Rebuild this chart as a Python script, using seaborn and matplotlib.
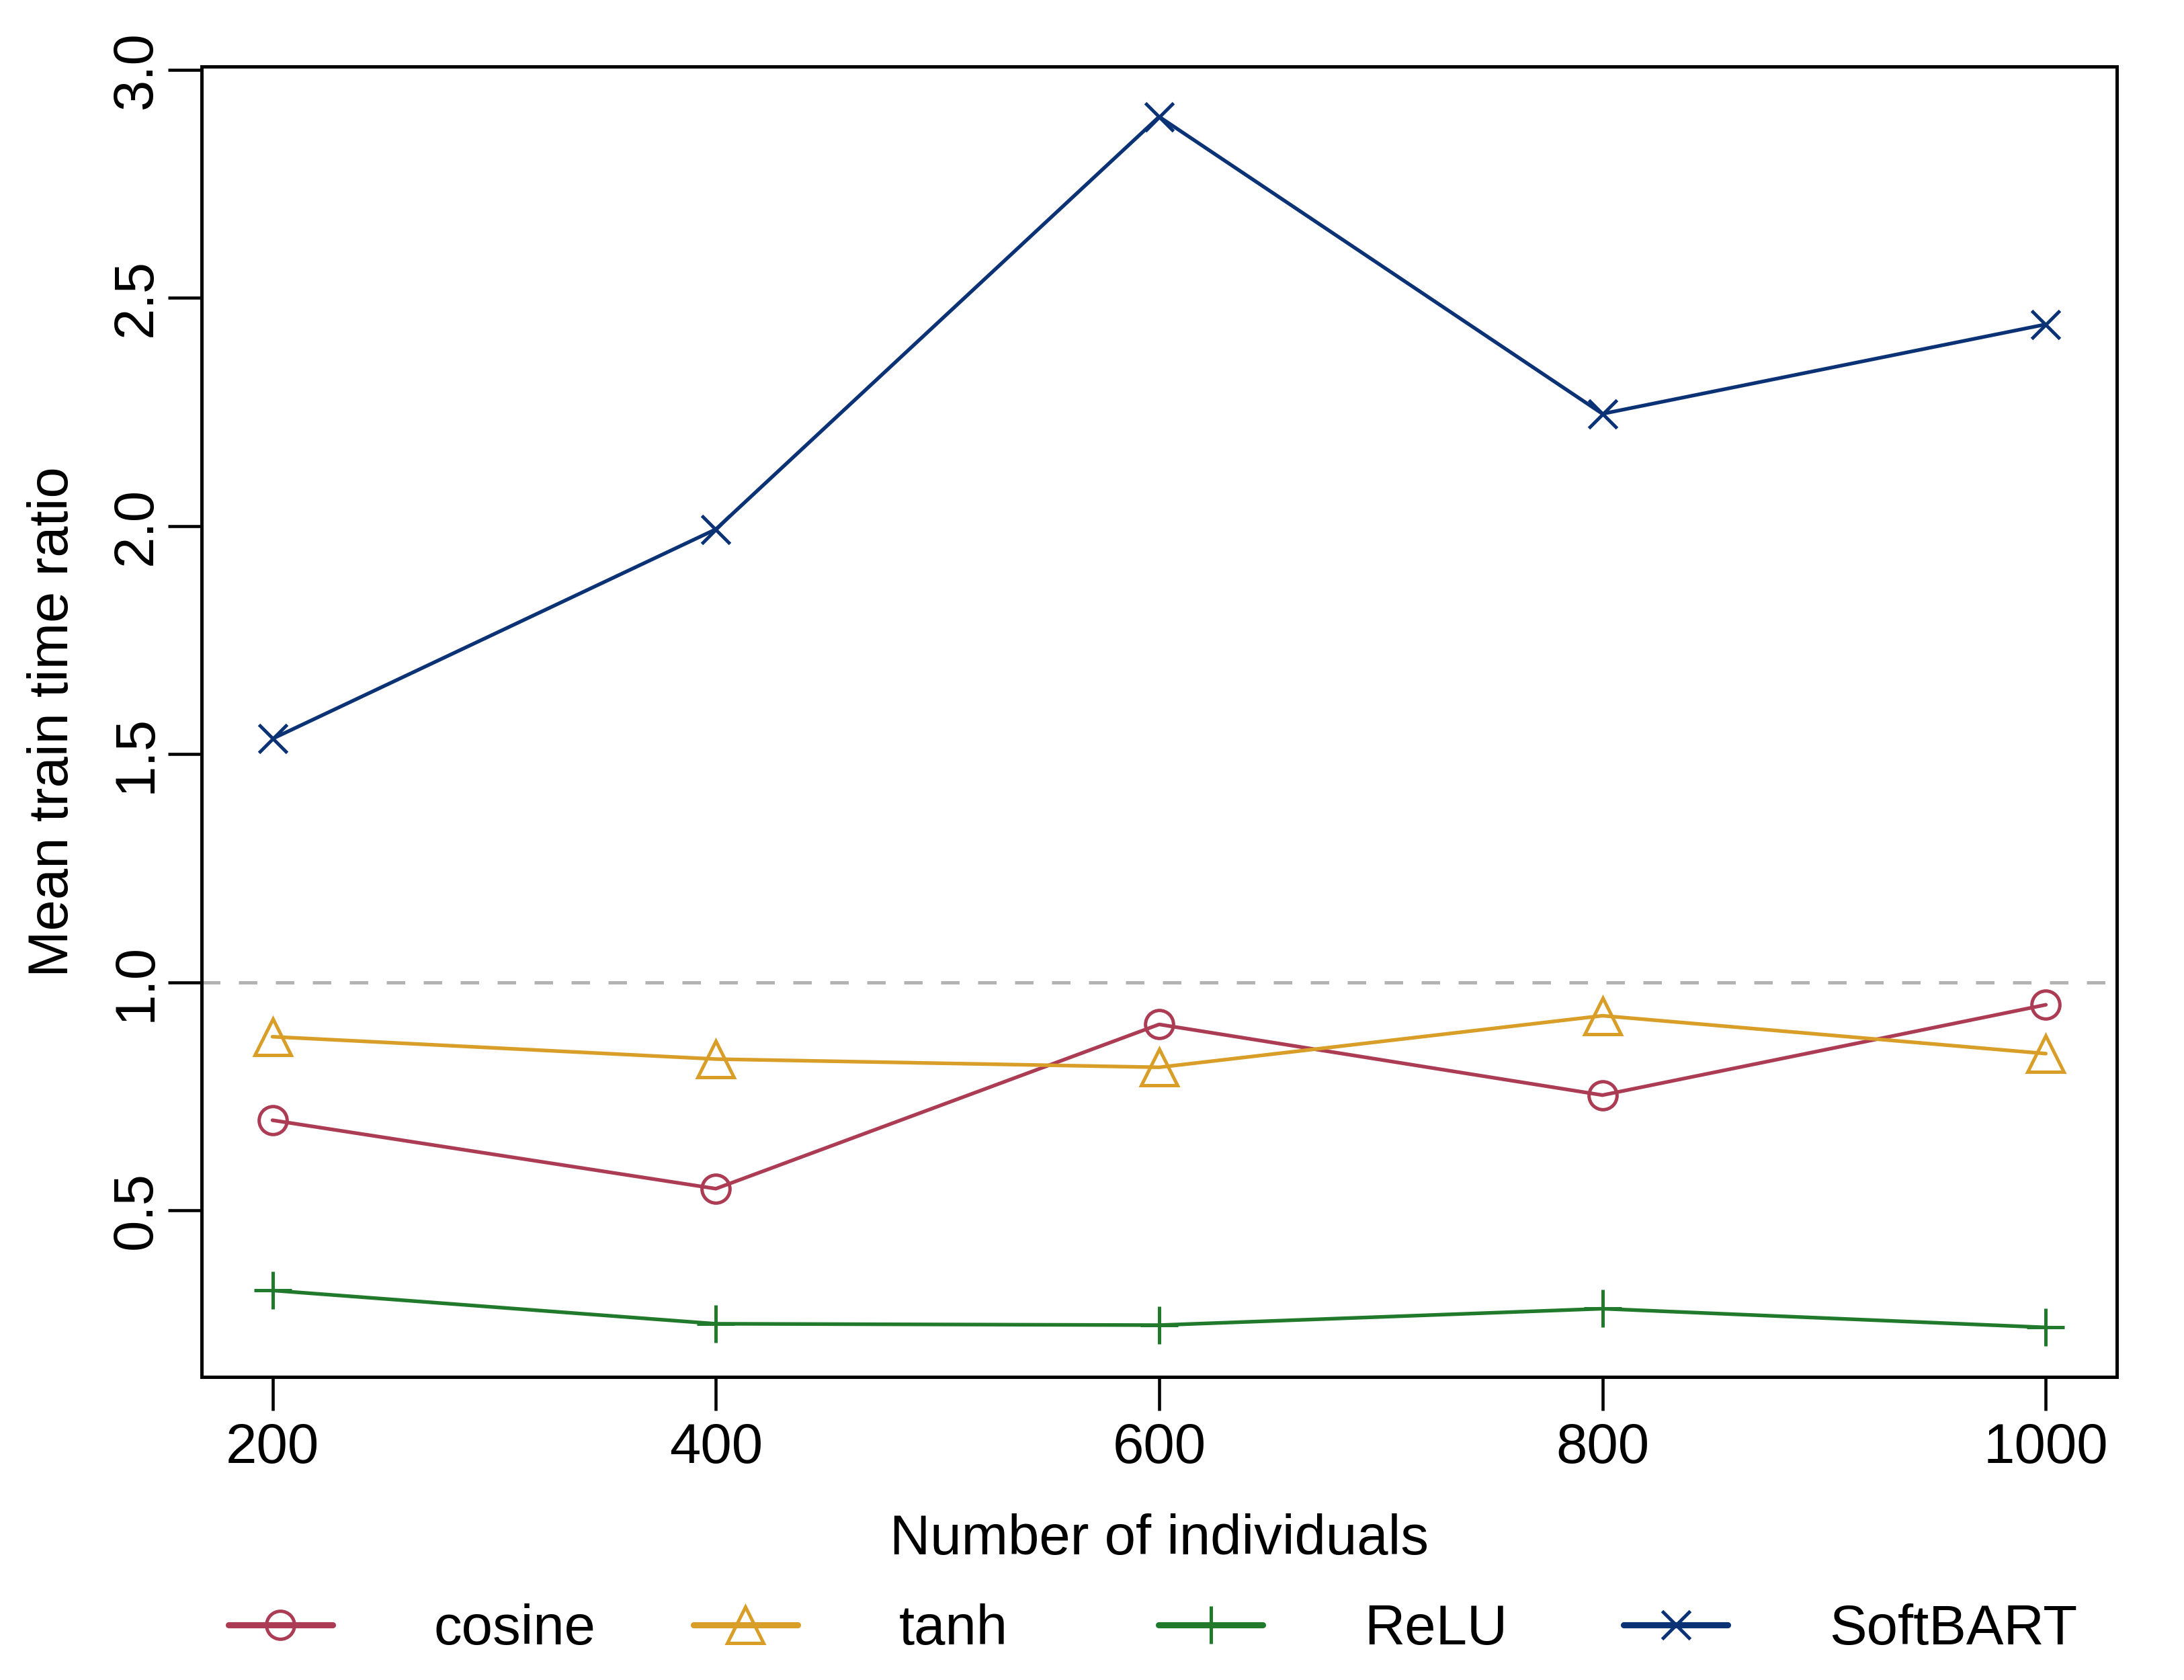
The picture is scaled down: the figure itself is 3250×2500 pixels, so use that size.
import numpy as np
import pandas as pd
import matplotlib
matplotlib.use("Agg")
import matplotlib.pyplot as plt
from matplotlib.lines import Line2D
import seaborn as sns

# ---- data ----
n_individuals = [200, 400, 600, 800, 1000]
cosine = [0.698, 0.548, 0.908, 0.753, 0.951]
tanh = [0.881, 0.832, 0.814, 0.927, 0.844]
relu = [0.325, 0.252, 0.249, 0.285, 0.244]
softbart = [1.534, 1.993, 2.897, 2.246, 2.442]
series_names = ["cosine", "tanh", "ReLU", "SoftBART"]
x_ticks = [200, 400, 600, 800, 1000]
y_ticks = [0.5, 1.0, 1.5, 2.0, 2.5, 3.0]

colors = {"cosine": "#AB3C54", "tanh": "#D89E28", "ReLU": "#217A2B", "SoftBART": "#0A3275"}
markers = {"cosine": "o", "tanh": "^", "ReLU": "+", "SoftBART": "x"}
msizes = {"cosine": 10, "tanh": 13, "ReLU": 13.5, "SoftBART": 10}

df = pd.DataFrame({
    "n": n_individuals * 4,
    "value": cosine + tanh + relu + softbart,
    "method": sum([[s] * len(n_individuals) for s in series_names], []),
})

sns.set_theme(style="ticks")
plt.rcParams["font.family"] = ["Liberation Sans", "DejaVu Sans"]
plt.rcParams["font.size"] = 20
plt.rcParams["text.color"] = "black"
plt.rcParams["axes.labelcolor"] = "black"

fig = plt.figure(figsize=(3250 / 300, 2500 / 300), dpi=300)
ax = fig.add_axes([0.0923, 0.1804, 0.9692 - 0.0923, 0.9604 - 0.1804])

sns.lineplot(data=df, x="n", y="value", hue="method",
             hue_order=series_names, palette=colors,
             linewidth=1.3, legend=False, ax=ax, errorbar=None)

for line, name in zip(ax.lines[:4], series_names):
    c = colors[name]
    line.set_color(c)
    line.set_marker(markers[name])
    line.set_markeredgecolor(c)
    line.set_markerfacecolor("none")
    line.set_markeredgewidth(1.2)
    line.set_markersize(msizes[name])

ax.axhline(1.0, color="#B3B3B3", linewidth=1.2, dashes=(5.5, 5.5))

ax.set_xlim(168, 1032)
ax.set_ylim(0.1355, 3.007)
ax.set_xticks(x_ticks)
ax.set_xticklabels([str(v) for v in x_ticks])
ax.set_yticks(y_ticks)
ax.set_yticklabels([f"{v:.1f}" for v in y_ticks], rotation=90, va="center")

for sp in ax.spines.values():
    sp.set_visible(True)
    sp.set_linewidth(1.2)
    sp.set_color("black")

ax.tick_params(axis="both", which="major", direction="out", length=12, width=1.1,
               color="black", labelsize=20, labelcolor="black", pad=4)
ax.tick_params(axis="y", pad=2)
ax.tick_params(top=False, right=False)

ax.set_xlabel("Number of individuals", fontsize=20, color="black", labelpad=14)
ax.set_ylabel("Mean train time ratio", fontsize=20, color="black", labelpad=11)
ax.grid(False)

# ---- legend: four evenly spaced entries below the plot ----
x_starts = [0.1046, 0.3175, 0.5305, 0.7434]
for name, xs in zip(series_names, x_starts):
    h = Line2D([], [], color=colors[name], linewidth=2.2, marker=markers[name],
               markersize=msizes[name], markerfacecolor="none",
               markeredgecolor=colors[name], markeredgewidth=1.2)
    fig.legend([h], [name], loc="center left", bbox_to_anchor=(xs, 0.03),
               bbox_transform=fig.transFigure, frameon=False, fontsize=20,
               handlelength=1.86, handletextpad=1.81, borderpad=0,
               borderaxespad=0, numpoints=1, labelcolor="black")

fig.savefig("out.png", dpi=300)
